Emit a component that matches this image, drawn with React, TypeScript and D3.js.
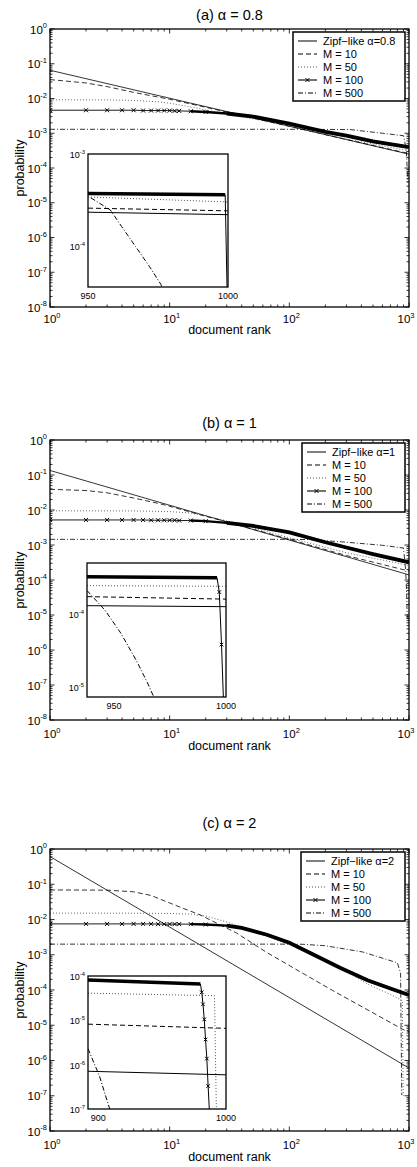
import React from 'react';
import * as d3 from 'd3';

type Pt = [number, number];

// ---- (a) alpha = 0.8 : main plot, [rank, probability] ----
const zipfA: Pt[] = [[1, 0.065], [1000, 0.00025]];
const m10A: Pt[] = [[1, 0.035], [2, 0.028], [3, 0.022], [5, 0.015], [10, 0.0095], [30, 0.0041], [100, 0.00158], [300, 0.00066], [1000, 0.00026]];
const m50A: Pt[] = [[1, 0.0092], [3, 0.0091], [5, 0.0088], [8, 0.008], [10, 0.0073], [15, 0.0057], [20, 0.0047], [30, 0.0036], [50, 0.0026], [100, 0.0016], [300, 0.00068], [1000, 0.00031]];
const m100A: Pt[] = [[1, 0.0046], [2, 0.0046], [3, 0.0046], [4, 0.0046], [5, 0.0046], [6, 0.0045], [7, 0.0045], [8, 0.0045], [9, 0.0045], [10, 0.0045], [11, 0.0044], [12, 0.0044], [15, 0.0043], [20, 0.0041], [30, 0.0037], [50, 0.003], [100, 0.0019], [200, 0.0011], [300, 0.00085], [500, 0.00058], [1000, 0.0004]];
const m500A: Pt[] = [[1, 0.0013], [100, 0.0013], [320, 0.00128], [600, 0.001], [900, 0.00085], [950, 0.00033], [965, 0.0001], [976, 0.000038]];
// inset (a), ranks 950-1000
const inZipfA: Pt[] = [[950, 0.000232], [1000, 0.000218]];
const inM10A: Pt[] = [[950, 0.000257], [1000, 0.00024]];
const inM50A: Pt[] = [[950, 0.00034], [1000, 0.0003]];
const inM100A: Pt[] = [[950, 0.00037], [999, 0.00036]];
const inM100DropA: Pt[] = [[999, 0.00036], [1000, 0.00001]];
const inM500A: Pt[] = [[951, 0.000333], [958, 0.000245], [962, 0.000162], [967, 0.000098], [972, 0.000059], [976, 0.000038], [979, 0.000022]];

// ---- (b) alpha = 1 ----
const zipfB: Pt[] = [[1, 0.135], [1000, 0.00014]];
const m10B: Pt[] = [[1, 0.039], [2, 0.036], [3, 0.031], [5, 0.022], [8, 0.0155], [10, 0.0128], [20, 0.0066], [30, 0.0046], [100, 0.00145], [300, 0.0005], [1000, 0.00018]];
const m50B: Pt[] = [[1, 0.0095], [5, 0.0094], [10, 0.009], [15, 0.0082], [20, 0.0068], [30, 0.0049], [50, 0.0031], [100, 0.0016], [300, 0.0006], [1000, 0.00026]];
const m100B: Pt[] = [[1, 0.0052], [2, 0.0052], [3, 0.0052], [4, 0.0052], [5, 0.0052], [6, 0.0052], [7, 0.0051], [8, 0.0051], [9, 0.0051], [10, 0.0051], [11, 0.0051], [12, 0.005], [15, 0.005], [20, 0.0048], [30, 0.0043], [50, 0.0035], [100, 0.0023], [200, 0.0012], [300, 0.00085], [500, 0.00055], [1000, 0.00032]];
const m500B: Pt[] = [[1, 0.00145], [100, 0.00145], [150, 0.00143], [300, 0.0012], [600, 0.00098], [900, 0.00082], [939, 0.00018], [953, 0.000055], [967, 0.0000073]];
// inset (b), ranks 938-1000
const inZipfB: Pt[] = [[938, 0.00013], [1000, 0.000126]];
const inM10B: Pt[] = [[938, 0.000173], [1000, 0.00016]];
const inM50B: Pt[] = [[938, 0.000245], [1000, 0.00024]];
const inM100B: Pt[] = [[938, 0.000325], [996, 0.000315]];
const inM100DropB: Pt[] = [[996, 0.000315], [997, 0.0002], [998, 0.000038], [999, 0.000005]];
const inM500B: Pt[] = [[938, 0.00021], [940, 0.00018], [946, 0.000113], [953, 0.000055], [960, 0.000023], [965, 0.0000113], [968, 0.000007]];

// ---- (c) alpha = 2 ----
const zipfC: Pt[] = [[1, 0.61], [1000, 6.1e-7]];
const m10C: Pt[] = [[1, 0.069], [3, 0.068], [5, 0.061], [7, 0.048], [9, 0.034], [12, 0.023], [18, 0.0135], [25, 0.0077], [36, 0.0042], [65, 0.00115], [123, 0.00033], [231, 0.000096], [445, 0.000028], [889, 0.0000076], [1000, 0.0000065]];
const m50C: Pt[] = [[1, 0.0152], [5, 0.0151], [10, 0.0148], [15, 0.0142], [20, 0.0125], [30, 0.0085], [50, 0.0046], [100, 0.002], [160, 0.001], [300, 0.00034], [445, 0.00015], [700, 0.000075], [880, 0.00005], [895, 1e-7]];
const m100C: Pt[] = [[1, 0.0075], [2, 0.0075], [3, 0.0075], [4, 0.0075], [5, 0.0075], [6, 0.0075], [7, 0.0075], [8, 0.0074], [9, 0.0074], [10, 0.0074], [11, 0.0074], [12, 0.0074], [15, 0.0074], [20, 0.0072], [30, 0.0067], [40, 0.0058], [65, 0.0037], [100, 0.0022], [160, 0.001], [265, 0.00043], [450, 0.00019], [700, 0.00011], [1000, 0.000072]];
const m500C: Pt[] = [[1, 0.002], [100, 0.002], [130, 0.00198], [200, 0.0018], [410, 0.0012], [800, 0.00059], [850, 0.0003], [870, 1.05e-7]];
// inset (c), ranks 892-1000
const inZipfC: Pt[] = [[892, 7.1e-7], [1000, 5.9e-7]];
const inM10C: Pt[] = [[892, 0.0000082], [1000, 0.0000066]];
const inM50C: Pt[] = [[892, 0.000041], [991, 0.000036], [993, 1e-8]];
const inM100C: Pt[] = [[892, 0.000081], [980, 0.000066]];
const inM100DropC: Pt[] = [[980, 0.000066], [981, 0.000043], [982, 0.000023], [983, 0.0000105], [984, 0.0000037], [985, 0.00000137], [986, 3.3e-7], [987, 9e-8]];
const inM500C: Pt[] = [[892, 0.0000023], [901, 5.5e-7], [909, 1e-7]];

const legendNames = ['M = 10', 'M = 50', 'M = 100', 'M = 500'];

const FONT = '"Liberation Sans", Arial, Helvetica, sans-serif';
const X_LEFT = 50;
const X_RIGHT = 409;

// zipf, M=10, M=50, M=100, M=500
const styles = [
  { dash: undefined, stroke: '#000', width: 0.8 },
  { dash: '5 3', stroke: '#000', width: 0.8 },
  { dash: '1 2', stroke: '#555', width: 0.9 },
  { dash: undefined, stroke: '#000', width: 0.9 },
  { dash: '5 2 1 2', stroke: '#000', width: 0.8 },
];

const panels = [
  {
    key: 'a', title: '(a) α = 0.8', titleY: 20, top: 29, height: 278, tickDy: 16, labelDy: 27,
    zipfName: 'Zipf−like α=0.8', legendLeft: 293,
    series: [zipfA, m10A, m50A, m100A, m500A],
    inset: {
      box: { x: 88, y: 154, w: 140, h: 133 }, xDomain: [950, 1000], yDomain: [Math.pow(10, -4.45), 1e-3],
      xTicks: [950, 1000], yTicks: [-3, -4],
      lines: [inZipfA, inM10A, inM50A, null, inM500A], flat: inM100A, drop: inM100DropA,
    },
  },
  {
    key: 'b', title: '(b) α = 1', titleY: 428, top: 440, height: 280, tickDy: 18, labelDy: 30,
    zipfName: 'Zipf−like α=1', legendLeft: 302,
    series: [zipfB, m10B, m50B, m100B, m500B],
    inset: {
      box: { x: 87, y: 563, w: 139, h: 134 }, xDomain: [938, 1000], yDomain: [Math.pow(10, -5.14), Math.pow(10, -3.3)],
      xTicks: [950, 1000], yTicks: [-4, -5],
      lines: [inZipfB, inM10B, inM50B, null, inM500B], flat: inM100B, drop: inM100DropB,
    },
  },
  {
    key: 'c', title: '(c) α = 2', titleY: 828, top: 849, height: 282, tickDy: 18, labelDy: 30,
    zipfName: 'Zipf−like α=2', legendLeft: 301,
    series: [zipfC, m10C, m50C, m100C, m500C],
    inset: {
      box: { x: 88, y: 976, w: 138, h: 133 }, xDomain: [892, 1000], yDomain: [1e-7, 1e-4],
      xTicks: [900, 1000], yTicks: [-4, -5, -6, -7],
      lines: [inZipfC, inM10C, inM50C, null, inM500C], flat: inM100C, drop: inM100DropC,
    },
  },
];

const isMajor = (t: number) => Math.abs(Math.log10(t) - Math.round(Math.log10(t))) < 1e-6;

const Cross = ({ cx, cy, r = 2 }: { cx: number; cy: number; r?: number }) => (
  <path d={`M${cx - r},${cy - r}L${cx + r},${cy + r}M${cx - r},${cy + r}L${cx + r},${cy - r}`} stroke="#000" strokeWidth={1} />
);

const Pow = ({ x, y, exp, size, anchor }: any) => (
  <text x={x} y={y} fontSize={size} textAnchor={anchor} fontFamily={FONT} fill="#000">
    10<tspan dy={-size * 0.45} fontSize={size * 0.65}>{exp}</tspan>
  </text>
);

function Inset({ inset, id }: any) {
  const { box } = inset;
  const x = d3.scaleLinear().domain(inset.xDomain).range([box.x, box.x + box.w]);
  const y = d3.scaleLog().domain(inset.yDomain).range([box.y + box.h, box.y]);
  const line = d3.line<Pt>().x(d => x(d[0])).y(d => y(d[1]));
  return (
    <g>
      <clipPath id={id}><rect x={box.x} y={box.y} width={box.w} height={box.h} /></clipPath>
      <rect x={box.x} y={box.y} width={box.w} height={box.h} fill="#fff" />
      <g clipPath={`url(#${id})`}>
        {inset.lines.map((s: Pt[] | null, i: number) => s && (
          <path key={i} d={line(s) || ''} fill="none" stroke={styles[i].stroke}
            strokeWidth={1} strokeDasharray={styles[i].dash} />
        ))}
        <path d={line(inset.flat) || ''} fill="none" stroke="#000" strokeWidth={3.5} />
        <path d={line(inset.drop) || ''} fill="none" stroke="#000" strokeWidth={1} />
        {inset.drop.slice(1).map((d: Pt, i: number) => <Cross key={i} cx={x(d[0])} cy={y(d[1])} r={1.8} />)}
      </g>
      <rect x={box.x} y={box.y} width={box.w} height={box.h} fill="none" stroke="#000" strokeWidth={1.3} />
      {inset.xTicks.map((t: number) => (
        <text key={t} x={x(t)} y={box.y + box.h + 12} fontSize={9} textAnchor="middle" fontFamily={FONT}>{t}</text>
      ))}
      {inset.yTicks.map((e: number) => (
        <Pow key={e} x={box.x - 3} y={y(Math.pow(10, e)) + 4} exp={String(e)} size={9} anchor="end" />
      ))}
    </g>
  );
}

function Panel({ p }: any) {
  const top = p.top;
  const bottom = top + p.height;
  const x = d3.scaleLog().domain([1, 1000]).range([X_LEFT, X_RIGHT]);
  const y = d3.scaleLog().domain([1e-8, 1]).range([bottom, top]);
  const line = d3.line<Pt>().x(d => x(d[0])).y(d => y(d[1]));
  const xt = x.ticks();
  const yt = y.ticks();
  const m100 = p.series[3] as Pt[];
  const clipId = `clip-${p.key}`;
  const L = p.legendLeft;
  const legTop = top + 3;
  const names = [p.zipfName, ...legendNames];

  return (
    <g>
      <text x={(X_LEFT + X_RIGHT) / 2} y={p.titleY} fontSize={14.5} textAnchor="middle" fontFamily={FONT}>{p.title}</text>
      <clipPath id={clipId}><rect x={X_LEFT} y={top} width={X_RIGHT - X_LEFT} height={p.height} /></clipPath>
      <g clipPath={`url(#${clipId})`}>
        {p.series.map((s: Pt[], i: number) => (
          <path key={i} d={line(s) || ''} fill="none" stroke={styles[i].stroke}
            strokeWidth={styles[i].width} strokeDasharray={styles[i].dash} />
        ))}
        {/* dense markers of M = 100 merge into a thick band */}
        <path d={line(m100.filter(d => d[0] >= 15)) || ''} fill="none" stroke="#000" strokeWidth={2.4} />
        <path d={line(m100.filter(d => d[0] >= 30)) || ''} fill="none" stroke="#000" strokeWidth={3.8} />
        {m100.filter(d => d[0] <= 20).map((d, i) => <Cross key={i} cx={x(d[0])} cy={y(d[1])} />)}
      </g>

      {/* ticks on all four sides, pointing in */}
      {xt.map((t, i) => {
        const len = isMajor(t) ? 4.5 : 2.5;
        const xx = x(t);
        return (
          <g key={`x${i}`} stroke="#000" strokeWidth={0.8}>
            <line x1={xx} x2={xx} y1={bottom} y2={bottom - len} />
            <line x1={xx} x2={xx} y1={top} y2={top + len} />
          </g>
        );
      })}
      {yt.map((t, i) => {
        const len = isMajor(t) ? 4.5 : 2.5;
        const yy = y(t);
        return (
          <g key={`y${i}`} stroke="#000" strokeWidth={0.8}>
            <line x1={X_LEFT} x2={X_LEFT + len} y1={yy} y2={yy} />
            <line x1={X_RIGHT} x2={X_RIGHT - len} y1={yy} y2={yy} />
          </g>
        );
      })}
      <rect x={X_LEFT} y={top} width={X_RIGHT - X_LEFT} height={p.height} fill="none" stroke="#000" strokeWidth={1.3} />

      {xt.filter(isMajor).map(t => (
        <Pow key={`xl${t}`} x={Math.min(x(t) + 2, 406)} y={bottom + p.tickDy} exp={String(Math.round(Math.log10(t)))} size={11.5} anchor="middle" />
      ))}
      {yt.filter(isMajor).map(t => (
        <Pow key={`yl${t}`} x={47} y={y(t) + 4.5} exp={String(Math.round(Math.log10(t)))} size={11.5} anchor="end" />
      ))}
      <text x={(X_LEFT + X_RIGHT) / 2} y={bottom + p.labelDy} fontSize={12.5} textAnchor="middle" fontFamily={FONT}>document rank</text>
      <text transform={`translate(24,${(top + bottom) / 2}) rotate(-90)`} fontSize={12.5} textAnchor="middle" fontFamily={FONT}>probability</text>

      <Inset inset={p.inset} id={`inset-${p.key}`} />

      <rect x={L} y={legTop} width={405 - L} height={69} fill="#fff" stroke="#000" strokeWidth={1.5} />
      {names.map((name, i) => {
        const ry = legTop + 9 + i * 13;
        return (
          <g key={name}>
            <line x1={L + 5} x2={L + 24} y1={ry} y2={ry} stroke={styles[i].stroke}
              strokeWidth={styles[i].width + 0.2} strokeDasharray={styles[i].dash} />
            {i === 3 && <Cross cx={L + 14.5} cy={ry} />}
            <text x={L + 30} y={ry + 4} fontSize={11} fontFamily={FONT}>{name}</text>
          </g>
        );
      })}
    </g>
  );
}

export default function App() {
  return (
    <svg width={417} height={1167} viewBox="0 0 417 1167"
      style={{ position: 'absolute', left: 0, top: 0, background: '#fff' }}>
      <rect width={417} height={1167} fill="#fff" />
      {panels.map(p => <Panel key={p.key} p={p} />)}
    </svg>
  );
}
